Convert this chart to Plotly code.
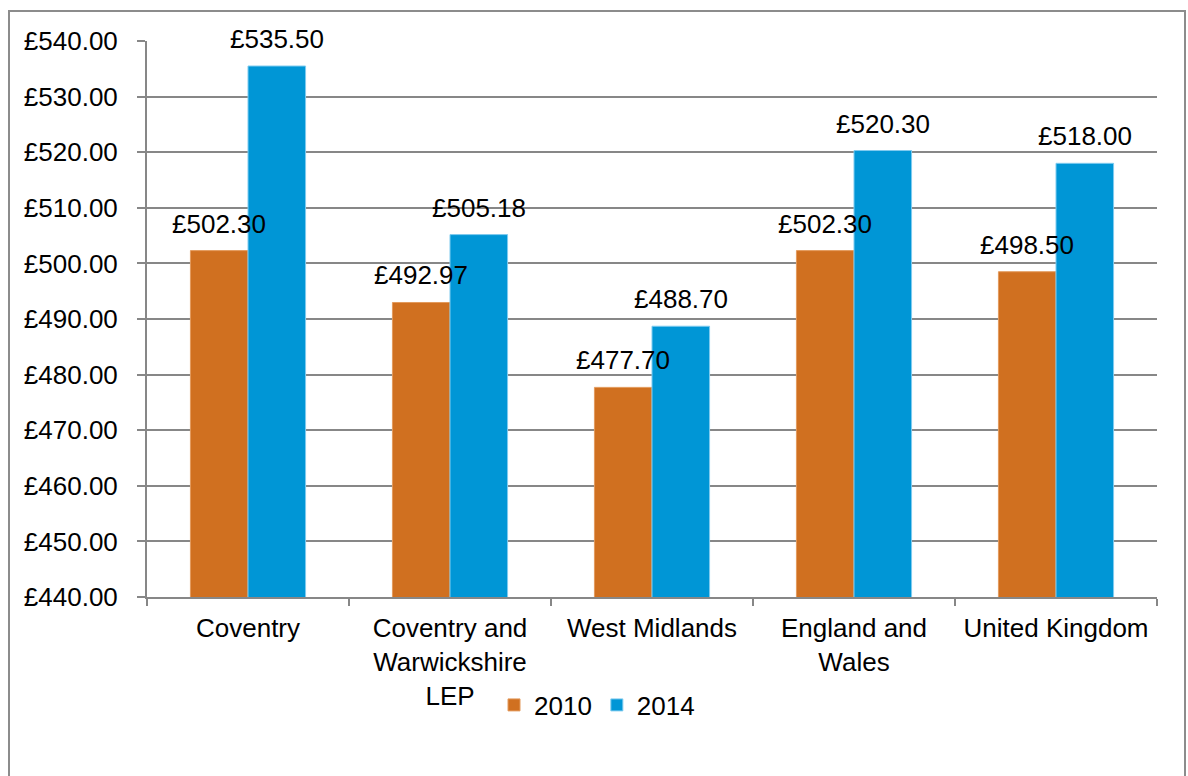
import plotly.graph_objects as go

# Average weekly pay by area, 2010 vs 2014
categories = ["Coventry", "Coventry and<br>Warwickshire<br>LEP", "West Midlands",
              "England and<br>Wales", "United Kingdom"]
pay_2010 = [502.30, 492.97, 477.70, 502.30, 498.50]
pay_2014 = [535.50, 505.18, 488.70, 520.30, 518.00]
series_names = ["2010", "2014"]

ORANGE = "#D07020"
BLUE = "#0096D6"
GRID = "#878787"
FONT = "Liberation Sans, Arial, sans-serif"
FS = 26

W, H = 1188, 776
ML, MR, MT, MB = 147, 31, 41, 179
plot_w = W - ML - MR
plot_h = H - MT - MB
BARGAP = 0.43
bar_px = plot_w / len(categories) * (1 - BARGAP) / 2

fig = go.Figure()
for name, vals, col, edge in [(series_names[0], pay_2010, ORANGE, "#E39A5C"),
                              (series_names[1], pay_2014, BLUE, "#7FCBEF")]:
    fig.add_trace(go.Bar(
        x=categories, y=vals, name=name,
        marker=dict(color=col, line=dict(color=edge, width=1)),
    ))

# Value labels above each bar
for vals, shift in [(pay_2010, -bar_px / 2), (pay_2014, bar_px / 2)]:
    for c, v in zip(categories, vals):
        fig.add_annotation(
            x=c, y=v, text=f"£{v:.2f}", showarrow=False,
            xshift=shift, yshift=10, yanchor="bottom", xanchor="center",
            font=dict(family=FONT, size=FS, color="#000000"),
        )

# Outer chart frame
def px_to_paper_x(px):
    return (px - ML) / plot_w

def px_to_paper_y(py):
    return (H - MB - py) / plot_h

fig.add_shape(type="rect", xref="paper", yref="paper",
              x0=px_to_paper_x(9), x1=px_to_paper_x(1185),
              y0=px_to_paper_y(790), y1=px_to_paper_y(11),
              line=dict(color="#8C8C8C", width=2), layer="below")

fig.update_layout(
    width=W, height=H,
    margin=dict(l=ML, r=MR, t=MT, b=MB),
    paper_bgcolor="white", plot_bgcolor="white",
    barmode="group", bargap=BARGAP, bargroupgap=0,
    font=dict(family=FONT, size=FS, color="#000000"),
    showlegend=True,
    legend=dict(orientation="h", x=px_to_paper_x(597), xanchor="center",
                y=px_to_paper_y(705), yanchor="middle",
                font=dict(family=FONT, size=FS), itemwidth=30,
                bgcolor="rgba(0,0,0,0)"),
)
fig.update_xaxes(
    type="category", showline=True, linecolor=GRID, linewidth=2,
    ticks="outside", tickson="boundaries", ticklen=7, tickcolor=GRID, tickwidth=2,
    showgrid=False, tickfont=dict(family=FONT, size=FS), ticklabelstandoff=7,
)
fig.update_yaxes(
    range=[440, 540], dtick=10, tickprefix="£", tickformat=".2f",
    showline=True, linecolor=GRID, linewidth=2,
    ticks="outside", ticklen=8, tickcolor=GRID, tickwidth=2,
    showgrid=True, gridcolor=GRID, gridwidth=2, zeroline=False,
    ticklabelstandoff=14, tickfont=dict(family=FONT, size=FS),
)

fig.write_html("out.html")
